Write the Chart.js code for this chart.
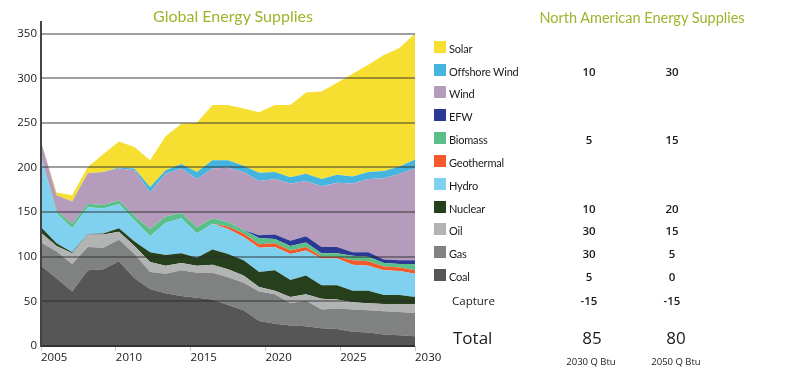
<!DOCTYPE html>
<html>
<head>
<meta charset="utf-8">
<script src="https://cdn.jsdelivr.net/npm/chart.js@4/dist/chart.umd.min.js"></script>
<style>
  body { margin: 0; background: #fff; }
  #wrap { position: relative; width: 800px; height: 370px; overflow: hidden; font-family: Lato, "Open Sans", sans-serif; color: #1a1a1a; }
  #chart { position: absolute; left: 0; top: 0; }
  .t { position: absolute; white-space: nowrap; transform: translateY(-50%); }
  .c { transform: translate(-50%, -50%); }
  .title { color: #9db52b; font-size: 16px; }
  .sq { position: absolute; width: 12px; height: 12px; }
</style>
</head>
<body>
<div id="wrap">
  <canvas id="chart" width="800" height="370"></canvas>
  <div class="t c title" style="left:233px; top:15px;">Global Energy Supplies</div>
  <div class="t c title" style="left:642px; top:17px; font-size:14.5px;">North American Energy Supplies</div>
</div>
<script>
// years of each point (evenly spaced, 2005 to 2030)
var years = [2005, 2006.04, 2007.08, 2008.13, 2009.17, 2010.21, 2011.25, 2012.29, 2013.33, 2014.38, 2015.42, 2016.46, 2017.5,
             2018.54, 2019.58, 2020.63, 2021.67, 2022.71, 2023.75, 2024.79, 2025.83, 2026.88, 2027.92, 2028.96, 2030];

// global supplies by source, bottom of the stack first
var coal       = [90, 76, 61, 85, 86, 95, 76, 64, 59, 56, 54, 52, 46, 40, 28, 25, 23, 22, 20, 19, 16, 15, 13, 12, 11];
var gas        = [26, 30, 31, 26, 24, 24, 27, 19, 22, 29, 28, 30, 31, 31, 33, 33, 25, 29, 21, 23, 25, 25, 26, 26, 26];
var oil        = [11, 6, 12, 14, 15, 9, 9, 11, 9, 8, 8, 9, 9, 8, 5, 4, 7, 7, 12, 10, 8, 8, 8, 9, 10];
var nuclear    = [6, 3, 1, 0.5, 1, 4, 5, 11, 12, 11, 9, 17, 17, 17, 17, 23, 19, 21, 15, 16, 13, 14, 10, 10, 8];
var hydro      = [79, 34, 27, 30, 28, 27, 24, 18, 36, 39, 27, 29, 28, 26, 27, 26, 29, 28, 30, 30, 29, 28, 28, 27, 26];
var geothermal = [0, 0, 0, 0, 0, 0, 0, 0, 0, 0, 0, 0, 3, 4, 4, 4, 4, 4, 2, 2, 5, 5, 4, 4, 4];
var biomass    = [0, 3, 5, 4, 4, 4, 5, 8, 7, 6, 7, 6, 5, 4, 7, 5, 5, 5, 4, 4, 5, 5, 4, 4, 7];
var efw        = [0, 0, 0, 0, 0, 0, 0, 0, 0, 0, 0, 0, 0, 0, 3, 5, 6, 7, 7, 7, 4, 5, 4, 4, 4];
var wind       = [17, 17, 25, 34, 37, 36, 51, 41, 48, 50, 54, 56, 61, 65, 61, 62, 64, 62, 68, 72, 77, 82, 91, 97, 103];
var offshore   = [0, 0, 0, 0, 0, 1, 2, 6, 4, 5, 8, 9, 8, 7, 9, 8, 7, 8, 8, 9, 8, 8, 8, 8, 10];
var solar      = [0, 3, 7, 7, 20, 29, 24, 30, 38, 45, 55, 62, 62, 64, 68, 75, 81, 91, 98, 103, 115, 120, 130, 133, 141];

var names  = ['Coal', 'Gas', 'Oil', 'Nuclear', 'Hydro', 'Geothermal', 'Biomass', 'EFW', 'Wind', 'Offshore Wind', 'Solar'];
var colors = ['#555655', '#808181', '#b2b4b3', '#263f1c', '#80d1ef', '#f4592b', '#5bbf8a', '#2b3894', '#b59cbc', '#45b5e0', '#f6df30'];
var series = [coal, gas, oil, nuclear, hydro, geothermal, biomass, efw, wind, offshore, solar];

var yTicks = [0, 50, 100, 150, 200, 250, 300, 350];

// north american table
var naRows  = ['Offshore Wind', 'Biomass', 'Nuclear', 'Oil', 'Gas', 'Coal', 'Capture'];
var na2030  = [10, 5, 10, 30, 30, 5, -15];
var na2050  = [30, 15, 20, 15, 5, 0, -15];
var naTotal = [85, 80];
var naCols  = ['2030 Q Btu', '2050 Q Btu'];

var datasets = series.map(function (s, i) {
    return {
        label: names[i],
        data: s.map(function (v, j) { return { x: years[j], y: v }; }),
        backgroundColor: colors[i],
        borderWidth: 0,
        pointRadius: 0,
        tension: 0,
        fill: i == 0 ? 'origin' : '-1'
    };
});

var tickFont = { family: 'Open Sans', size: 11.5 };

new Chart(document.getElementById('chart'), {
    type: 'line',
    data: { datasets: datasets },
    options: {
        responsive: false,
        animation: false,
        events: [],
        layout: { padding: { left: 0, right: 385, top: 22, bottom: 0 } },
        plugins: { legend: { display: false }, tooltip: { enabled: false } },
        scales: {
            x: {
                type: 'linear',
                min: 2005, max: 2030,
                afterFit: function (s) { s.height = 24; },
                ticks: { stepSize: 5, align: 'start', color: '#1a1a1a', font: tickFont, padding: 0,
                         callback: function (v) { return String(v); } },
                grid: { drawOnChartArea: false, drawTicks: true, tickLength: 5, color: '#c8c8c8' },
                border: { display: false }
            },
            y: {
                stacked: true,
                min: 0, max: 363,
                afterFit: function (s) { s.width = 41; },
                afterBuildTicks: function (s) {
                    s.ticks = yTicks.map(function (v) { return { value: v }; });
                },
                ticks: { color: '#1a1a1a', font: tickFont, padding: 4 },
                grid: {
                    z: 1,
                    drawTicks: false,
                    lineWidth: 2,
                    color: function (c) { return c.tick && c.tick.value === 0 ? '#333' : 'rgba(40,40,40,0.45)'; }
                },
                border: { display: true, color: '#444', width: 2, z: 2 }
            }
        }
    }
});

// legend + table drawn as text on the right
var wrap = document.getElementById('wrap');
function addText(txt, x, y, style, centered) {
    var d = document.createElement('div');
    d.className = centered ? 't c' : 't';
    d.textContent = txt;
    d.style.left = x + 'px';
    d.style.top = y + 'px';
    d.style.cssText += style || '';
    wrap.appendChild(d);
}

var numStyle = 'font-size:11.5px;font-weight:600;font-family:"Open Sans";';
var rowY = 47.7, rowStep = 22.83;
for (var i = names.length - 1, r = 0; i >= 0; i--, r++) {
    var y = rowY + r * rowStep;
    var sq = document.createElement('div');
    sq.className = 'sq';
    sq.style.left = '434px';
    sq.style.top = (y - 7) + 'px';
    sq.style.background = colors[i];
    wrap.appendChild(sq);
    addText(names[i], 449, y, 'font-size:11px;letter-spacing:-0.2px;');
    var k = naRows.indexOf(names[i]);
    if (k >= 0) {
        addText(String(na2030[k]), 589, y, numStyle, true);
        addText(String(na2050[k]), 672, y, numStyle, true);
    }
}
var capY = 300;
addText('Capture', 452, capY, 'font-size:11.5px;font-family:"Open Sans";');
addText(String(na2030[6]), 589, capY, numStyle, true);
addText(String(na2050[6]), 672, capY, numStyle, true);

addText('Total', 453, 337, 'font-size:17px;font-family:"Open Sans";');
addText(String(naTotal[0]), 592, 337, 'font-size:17px;font-family:"Open Sans";', true);
addText(String(naTotal[1]), 676, 337, 'font-size:17px;font-family:"Open Sans";', true);

addText(naCols[0], 591, 361, 'font-size:9.5px;font-family:"Open Sans";', true);
addText(naCols[1], 676, 361, 'font-size:9.5px;font-family:"Open Sans";', true);
</script>
</body>
</html>
